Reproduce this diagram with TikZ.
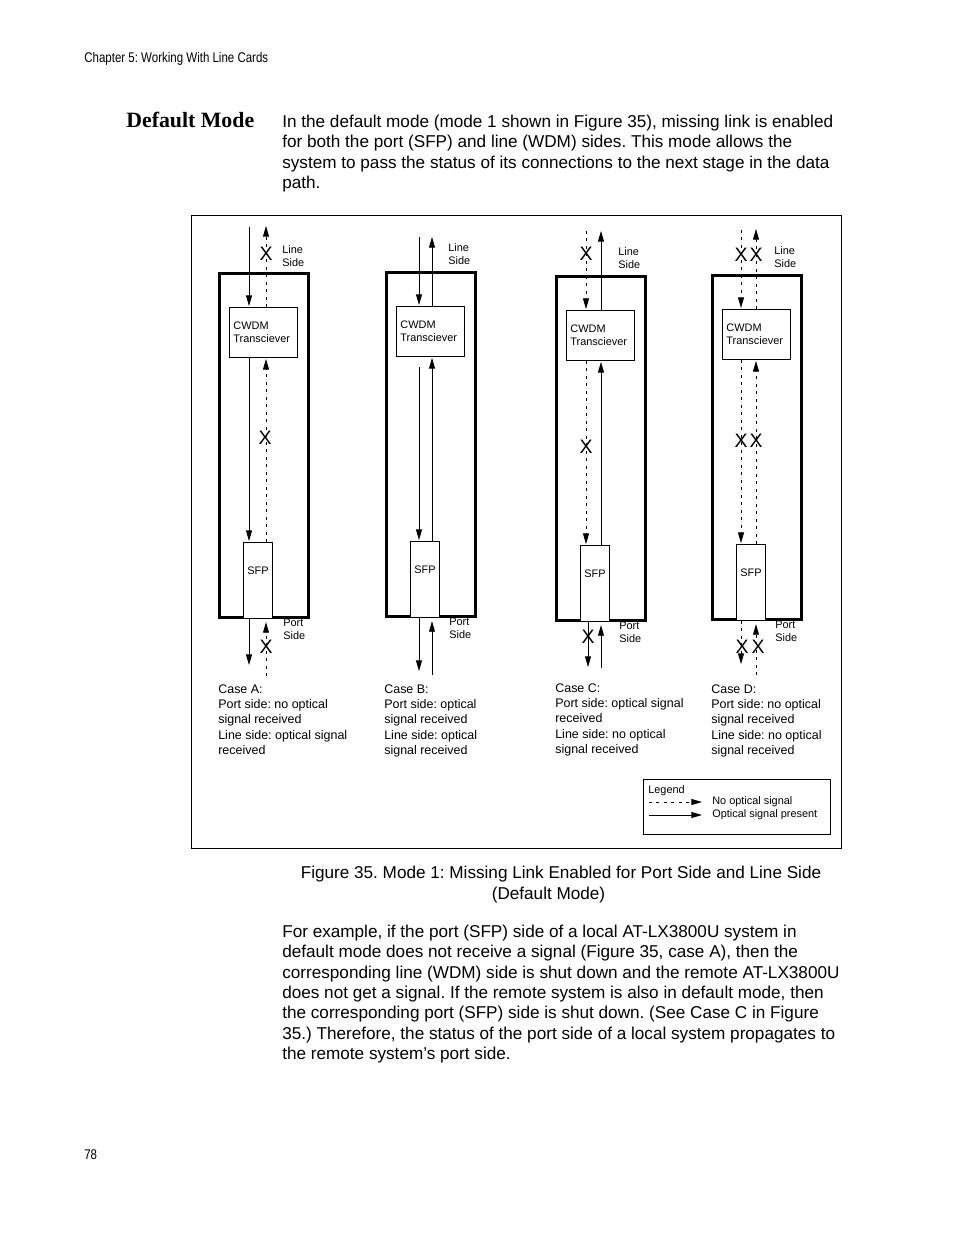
\documentclass[tikz,border=0pt]{standalone}
\usepackage{fontspec}
\setmainfont{Liberation Sans}
\newfontfamily\headSerif{Liberation Serif}
\newfontfamily\narrowSans[FakeStretch=0.82]{Liberation Sans}
\usetikzlibrary{arrows.meta,calc}
\frenchspacing
\tikzset{
  cardBox/.style={draw, line width=1.9pt, minimum width=57.1pt, minimum height=220.7pt, inner sep=0pt, anchor=north west},
  cwdmBox/.style={draw, fill=white, line width=0.6pt, minimum width=43.6pt, minimum height=32.1pt, text width=38.5pt, inner xsep=2.55pt, align=left, anchor=north west, font=\fontsize{7}{8.3}\selectfont},
  sfpBox/.style={draw, fill=white, line width=0.6pt, minimum width=18.6pt, minimum height=48.8pt, inner sep=0pt, text depth=12pt, anchor=south west, font=\fontsize{7}{8.3}\selectfont},
  sideLabel/.style={align=left, inner sep=0pt, anchor=north west, font=\fontsize{7}{8.3}\selectfont},
  sigArrow/.style={-{Triangle[length=6.8pt,width=3.8pt]}, line width=0.6pt, shorten >=0.6pt},
  noSigArrow/.style={sigArrow, dash pattern=on 1.9pt off 2.9pt},
  xMark/.style={inner sep=0pt, font=\fontsize{12.5}{13}\selectfont},
  caseText/.style={align=left, anchor=north west, inner sep=0pt, font=\fontsize{8}{9.9}\selectfont},
  bodyLine/.style={anchor=base west, inner sep=0pt, font=\fontsize{11}{13}\selectfont},
  legendText/.style={anchor=west, inner sep=0pt, font=\fontsize{7}{8.3}\selectfont}
}
\begin{document}
\begin{tikzpicture}[x=0.6415pt, y=-0.6415pt]
  \useasboundingbox (0,0) rectangle (954,1235);

  % page text
  \node[anchor=base west, inner sep=0pt, font=\narrowSans\fontsize{9}{10}\selectfont] (header) at (84,62) {Chapter 5: Working With Line Cards};
  \node[anchor=base west, inner sep=0pt, font=\headSerif\bfseries\fontsize{14}{16}\selectfont] (title) at (126,127) {Default Mode};
  \node[bodyLine] (introA) at (282,127) {In the default mode (mode 1 shown in Figure 35), missing link is enabled};
  \node[bodyLine] (introB) at (282,147) {for both the port (SFP) and line (WDM) sides. This mode allows the};
  \node[bodyLine] (introC) at (282,168) {system to pass the status of its connections to the next stage in the data};
  \node[bodyLine] (introD) at (282,188) {path.};

  \node[draw, line width=0.6pt, minimum width=417pt, minimum height=406.1pt, anchor=north west] (frame) at (191,215) {};

  % case A
  \node[cardBox] (cardA) at (218,272) {};
  \node[cwdmBox] (cwdmA) at ($(cardA.north west)+(11,35)$) {CWDM\\Transciever};
  \node[sfpBox] (sfpA) at ($(cardA.south west)+(25,0)$) {SFP};
  \coordinate (aInL) at (249,227);
  \coordinate (aOutR) at (266,225);
  \coordinate (aOutL) at (249,666);
  \coordinate (aInR) at (266,676);
  \draw[sigArrow] (aInL) -- (aInL |- cwdmA.north);
  \draw[noSigArrow] (aOutR |- cwdmA.north) -- (aOutR);
  \draw[sigArrow] (aInL |- cwdmA.south) -- (aInL |- sfpA.north);
  \draw[noSigArrow] (aOutR |- sfpA.north) -- (aOutR |- cwdmA.south);
  \draw[sigArrow] (aInL |- sfpA.south) -- (aOutL);
  \draw[noSigArrow, shorten >=2pt] (aInR) -- (aInR |- sfpA.south);
  \node[xMark] (xA1) at (266,254) {X};
  \node[xMark] (xA2) at (265,438) {X};
  \node[xMark] (xA3) at (266,647) {X};
  \node[sideLabel] (lineA) at (282,245) {Line\\Side};
  \node[sideLabel] (portA) at (283,619) {Port\\Side};
  \node[caseText] (caseA) at (218,684) {Case A:\\Port side: no optical\\signal received\\Line side: optical signal\\received};

  % case B
  \node[cardBox] (cardB) at (385,271) {};
  \node[cwdmBox] (cwdmB) at ($(cardB.north west)+(11,35)$) {CWDM\\Transciever};
  \node[sfpBox] (sfpB) at ($(cardB.south west)+(25,0)$) {SFP};
  \coordinate (bInL) at (419,237);
  \coordinate (bOutR) at (432,236);
  \coordinate (bOutL) at (419,672);
  \coordinate (bInR) at (432,675);
  \draw[sigArrow] (bInL) -- (bInL |- cwdmB.north);
  \draw[sigArrow] (bOutR |- cwdmB.north) -- (bOutR);
  \draw[sigArrow, shorten <=6.5pt] (bInL |- cwdmB.south) -- (bInL |- sfpB.north);
  \draw[sigArrow] (bOutR |- sfpB.north) -- (bOutR |- cwdmB.south);
  \draw[sigArrow] (bInL |- sfpB.south) -- (bOutL);
  \draw[sigArrow, shorten >=2pt] (bInR) -- (bInR |- sfpB.south);
  \node[sideLabel] (lineB) at (448,243) {Line\\Side};
  \node[sideLabel] (portB) at (449,618) {Port\\Side};
  \node[caseText] (caseB) at (384,684) {Case B:\\Port side: optical\\signal received\\Line side: optical\\signal received};

  % case C
  \node[cardBox] (cardC) at (555,275) {};
  \node[cwdmBox] (cwdmC) at ($(cardC.north west)+(11,35)$) {CWDM\\Transciever};
  \node[sfpBox] (sfpC) at ($(cardC.south west)+(25,0)$) {SFP};
  \coordinate (cInL) at (586,231);
  \coordinate (cOutR) at (601,230);
  \coordinate (cOutL) at (588,668);
  \coordinate (cInR) at (601,668);
  \draw[noSigArrow] (cInL) -- (cInL |- cwdmC.north);
  \draw[sigArrow] (cOutR |- cwdmC.north) -- (cOutR);
  \draw[noSigArrow] (cInL |- cwdmC.south) -- (cInL |- sfpC.north);
  \draw[sigArrow] (cOutR |- sfpC.north) -- (cOutR |- cwdmC.south);
  \draw[sigArrow] (cOutL |- sfpC.south) -- (cOutL);
  \draw[sigArrow, shorten >=2pt] (cInR) -- (cInR |- sfpC.south);
  \node[xMark] (xC1) at (586,254) {X};
  \node[xMark] (xC2) at (586,447) {X};
  \node[xMark] (xC3) at (588,637) {X};
  \node[sideLabel] (lineC) at (618,247) {Line\\Side};
  \node[sideLabel] (portC) at (619,622) {Port\\Side};
  \node[caseText] (caseC) at (555,683) {Case C:\\Port side: optical signal\\received\\Line side: no optical\\signal received};

  % case D
  \node[cardBox] (cardD) at (711,274) {};
  \node[cwdmBox] (cwdmD) at ($(cardD.north west)+(11,35)$) {CWDM\\Transciever};
  \node[sfpBox] (sfpD) at ($(cardD.south west)+(25,0)$) {SFP};
  \coordinate (dInL) at (741,230);
  \coordinate (dOutR) at (756,228);
  \coordinate (dOutL) at (741,665);
  \coordinate (dInR) at (756,675);
  \draw[noSigArrow] (dInL) -- (dInL |- cwdmD.north);
  \draw[noSigArrow] (dOutR |- cwdmD.north) -- (dOutR);
  \draw[noSigArrow] (dInL |- cwdmD.south) -- (dInL |- sfpD.north);
  \draw[noSigArrow] (dOutR |- sfpD.north) -- (dOutR |- cwdmD.south);
  \draw[noSigArrow] (dInL |- sfpD.south) -- (dOutL);
  \draw[noSigArrow, shorten >=2pt] (dInR) -- (dInR |- sfpD.south);
  \node[xMark] (xD1) at (741,255) {X};
  \node[xMark] (xD2) at (756,255) {X};
  \node[xMark] (xD3) at (741,441) {X};
  \node[xMark] (xD4) at (756,441) {X};
  \node[xMark] (xD5) at (742,647) {X};
  \node[xMark] (xD6) at (758,647) {X};
  \node[sideLabel] (lineD) at (774,246) {Line\\Side};
  \node[sideLabel] (portD) at (775,621) {Port\\Side};
  \node[caseText] (caseD) at (711,684) {Case D:\\Port side: no optical\\signal received\\Line side: no optical\\signal received};

  % legend
  \node[draw, line width=0.6pt, minimum width=120pt, minimum height=35.3pt, anchor=north west] (legend) at (643,779) {};
  \node[anchor=north west, inner sep=0pt, font=\fontsize{7}{8.3}\selectfont] (legendTitle) at (648,785) {Legend};
  \node[legendText] (legNo) at (712,802) {No optical signal};
  \node[legendText] (legYes) at (712,815) {Optical signal present};
  \coordinate (legDot) at (649,802);
  \coordinate (legSolid) at (649,815);
  \draw[noSigArrow, shorten >=6.4pt] (legDot) -- (legNo.west);
  \draw[sigArrow, shorten >=6.4pt] (legSolid) -- (legYes.west);

  % caption and text below
  \node[anchor=base, inner sep=0pt, font=\fontsize{11}{13}\selectfont] (capA) at (561,878) {Figure 35. Mode 1: Missing Link Enabled for Port Side and Line Side};
  \node[anchor=base, inner sep=0pt, font=\fontsize{11}{13}\selectfont] (capB) at (548.5,899) {(Default Mode)};
  \node[bodyLine] (textA) at (282,937) {For example, if the port (SFP) side of a local AT-LX3800U system in};
  \node[bodyLine] (textB) at (282,957) {default mode does not receive a signal (Figure 35, case A), then the};
  \node[bodyLine] (textC) at (282,978) {corresponding line (WDM) side is shut down and the remote AT-LX3800U};
  \node[bodyLine] (textD) at (282,998) {does not get a signal. If the remote system is also in default mode, then};
  \node[bodyLine] (textE) at (282,1018) {the corresponding port (SFP) side is shut down. (See Case C in Figure};
  \node[bodyLine] (textF) at (282,1039) {35.) Therefore, the status of the port side of a local system propagates to};
  \node[bodyLine] (textG) at (282,1059) {the remote system’s port side.};
  \node[anchor=base west, inner sep=0pt, font=\narrowSans\fontsize{9}{10}\selectfont] (pageNo) at (84,1159) {78};
\end{tikzpicture}
\end{document}
